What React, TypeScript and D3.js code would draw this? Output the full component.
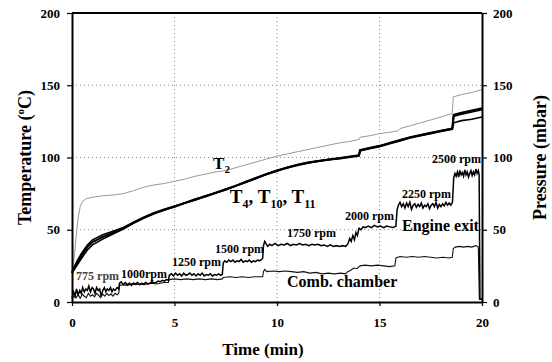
import React, { useRef, useEffect } from 'react'
import * as d3 from 'd3'

type Pt = [number, number]

// time (min), temperature (°C)
const t2: Pt[] = [
  [0, 20], [0.1, 30], [0.2, 45], [0.3, 58], [0.4, 66], [0.5, 69.5], [0.7, 71.5], [1, 72.5], [1.5, 73.5],
  [2, 74], [2.5, 75], [3, 77], [3.5, 79.5], [4, 81], [4.5, 82], [5, 83.5], [5.5, 85], [6, 87], [6.5, 88.5],
  [7, 90], [7.5, 91], [8, 93], [8.5, 95], [9, 97], [9.5, 99], [10, 101], [10.5, 102.5], [11, 104],
  [11.5, 105.5], [12, 107], [12.5, 108.5], [13, 110], [13.5, 111], [14, 112.5], [14.05, 114], [14.5, 115],
  [15, 116.5], [15.5, 117.5], [15.9, 118.5], [16, 120], [16.5, 122], [17, 124], [17.5, 126], [18, 128],
  [18.55, 130.5], [18.6, 142], [19, 143.5], [19.5, 145], [20, 147],
]

const t4: Pt[] = [
  [0, 20], [0.25, 27], [0.5, 33], [0.75, 38], [1, 41.5], [1.5, 45], [2, 48], [2.5, 51], [3, 55], [3.5, 58.5],
  [4, 61.5], [4.5, 64], [5, 66], [5.5, 68.5], [6, 71], [6.5, 73], [7, 75.5], [7.5, 78], [8, 80.5], [8.5, 83],
  [9, 86], [9.5, 88.5], [10, 91], [10.5, 93], [11, 95], [11.5, 96.5], [12, 97.5], [12.5, 98.5], [13, 99.5],
  [13.5, 100.5], [14, 101.5], [14.05, 105], [14.5, 106.5], [15, 108], [15.5, 110], [16, 112], [16.5, 114],
  [17, 115.5], [17.5, 117], [18, 118.5], [18.55, 120], [18.62, 129.5], [19, 131], [19.5, 132.5], [20, 134],
]

const t10: Pt[] = [
  [0, 20], [0.25, 25.5], [0.5, 31], [0.75, 36], [1, 39.5], [1.5, 43.5], [2, 47], [2.5, 50.5], [3, 54.5],
  [3.5, 58], [4, 61], [4.5, 63.5], [5, 66], [5.5, 68.5], [6, 70.5], [6.5, 73], [7, 75.5], [7.5, 77.5],
  [8, 80.5], [8.5, 83], [9, 85.5], [9.5, 88.5], [10, 90.5], [10.5, 93], [11, 94.5], [11.5, 96], [12, 97.5],
  [12.5, 98.5], [13, 99], [13.5, 100], [14, 101], [14.05, 104.5], [14.5, 106], [15, 107.5], [15.5, 109.5],
  [16, 111.5], [16.5, 113.5], [17, 115], [17.5, 116.5], [18, 118], [18.55, 119.5], [18.62, 128.5],
  [19, 130], [19.5, 131.5], [20, 133],
]

const t11: Pt[] = [
  [0, 21], [0.25, 28.5], [0.5, 34.5], [0.75, 39.5], [1, 43], [1.5, 46.5], [2, 49], [2.5, 51.5], [3, 55],
  [3.5, 58.5], [4, 61.5], [4.5, 64], [5, 66.5], [5.5, 68.5], [6, 71], [6.5, 73.5], [7, 75.5], [7.5, 78],
  [8, 80.5], [8.5, 83.5], [9, 86], [9.5, 88.5], [10, 91], [10.5, 93], [11, 95], [11.5, 96.5], [12, 97.5],
  [12.5, 98.5], [13, 99.5], [13.5, 100.5], [14, 101.5], [14.05, 105], [14.5, 106.5], [15, 108], [15.5, 110],
  [16, 112], [16.5, 114], [17, 115.5], [17.5, 117], [18, 118.5], [18.55, 120], [18.62, 124], [19, 125.5],
  [19.5, 126.5], [20, 128],
]

// time (min), pressure (mbar)
const engineExit: Pt[] = [
  [0, 3], [0.08, 7], [0.15, 4], [0.22, 9], [0.3, 5], [0.38, 8], [0.45, 6], [0.52, 10], [0.6, 7], [0.68, 9],
  [0.75, 8], [0.82, 11], [0.9, 7], [0.98, 10], [1.05, 9], [1.12, 6], [1.2, 10], [1.28, 8], [1.35, 9],
  [1.42, 4], [1.5, 8], [1.58, 10], [1.65, 7], [1.72, 9], [1.8, 8], [1.88, 10], [1.95, 7], [2.02, 9],
  [2.1, 8], [2.2, 10], [2.28, 9],
  [2.32, 13], [2.4, 14], [2.5, 12], [2.6, 13.5], [2.7, 12], [2.8, 13], [2.9, 11.5], [3, 13], [3.1, 12.5],
  [3.2, 13.5], [3.3, 12], [3.4, 13], [3.5, 12.5], [3.6, 13.5], [3.7, 12.5], [3.8, 13], [3.9, 14], [4, 13],
  [4.1, 13.5], [4.2, 14.5], [4.3, 14], [4.4, 15], [4.5, 14.5], [4.6, 15.5], [4.7, 15],
  [4.75, 18.5], [4.85, 19.5], [4.95, 18], [5.05, 20], [5.15, 18.5], [5.25, 19.5], [5.35, 18], [5.45, 20],
  [5.55, 18.5], [5.65, 19], [5.75, 20], [5.85, 18.5], [5.95, 19.5], [6.05, 18], [6.15, 19.5], [6.25, 18.5],
  [6.35, 20], [6.45, 18], [6.55, 19], [6.65, 18.5], [6.75, 19.5], [6.85, 18], [6.95, 19], [7.05, 18.5],
  [7.15, 19.5], [7.25, 18.5], [7.33, 19],
  [7.38, 27], [7.45, 28.5], [7.55, 27.5], [7.65, 29], [7.75, 28], [7.85, 29], [7.95, 27.5], [8.05, 28.5],
  [8.15, 28], [8.25, 29.5], [8.35, 27.5], [8.45, 28.5], [8.55, 28], [8.65, 29], [8.75, 27.5], [8.85, 28.5],
  [8.95, 28], [9.05, 29], [9.15, 28.5], [9.25, 29.5], [9.3, 30],
  [9.34, 39], [9.4, 42], [9.48, 40], [9.55, 38.5], [9.65, 40], [9.75, 39], [9.9, 40.5], [10.05, 39],
  [10.2, 40], [10.35, 39.5], [10.5, 40.5], [10.65, 39], [10.8, 40], [10.95, 39.5], [11.1, 40.5],
  [11.25, 39.5], [11.4, 40], [11.55, 39], [11.7, 40], [11.85, 39.5], [12, 40], [12.15, 39], [12.3, 39.5],
  [12.45, 38.5], [12.6, 39.5], [12.75, 38.5], [12.9, 39], [13.05, 38.5], [13.2, 39], [13.35, 38.5],
  [13.45, 40], [13.55, 44], [13.62, 42], [13.7, 46], [13.78, 43], [13.85, 48], [13.92, 46], [14, 51],
  [14.1, 50], [14.2, 52], [14.3, 51.5], [14.45, 52.5], [14.6, 51.5], [14.75, 53], [14.9, 52], [15.05, 52.5],
  [15.2, 51.5], [15.35, 52.5], [15.5, 52], [15.65, 51.5], [15.8, 52.5],
  [15.86, 64], [15.92, 67], [16, 69], [16.08, 66], [16.16, 68], [16.24, 65], [16.32, 68.5], [16.4, 66],
  [16.48, 69], [16.56, 64], [16.64, 67], [16.72, 68], [16.8, 65.5], [16.88, 67.5], [16.96, 66],
  [17.04, 68.5], [17.12, 65], [17.2, 67], [17.28, 66], [17.36, 68], [17.44, 64.5], [17.52, 67], [17.6, 68],
  [17.68, 66], [17.76, 69], [17.84, 65], [17.92, 67.5], [18, 66], [18.08, 68], [18.16, 66.5], [18.24, 69],
  [18.32, 67], [18.4, 68.5], [18.48, 67], [18.56, 69],
  [18.62, 86], [18.68, 89], [18.74, 87], [18.8, 90], [18.86, 86.5], [18.92, 91], [18.98, 88], [19.04, 89.5],
  [19.1, 87], [19.16, 91.5], [19.22, 88], [19.28, 90], [19.34, 86.5], [19.4, 89], [19.46, 91], [19.52, 87.5],
  [19.58, 90], [19.64, 88], [19.7, 92], [19.76, 89], [19.82, 91], [19.86, 88],
  [19.9, 2], [20, 2],
]

const combChamber: Pt[] = [
  [0, 2], [0.1, 4], [0.2, 3], [0.3, 5], [0.4, 2.5], [0.5, 5.5], [0.6, 4], [0.7, 3], [0.8, 6], [0.9, 4],
  [1, 5], [1.1, 3.5], [1.2, 6], [1.3, 4.5], [1.4, 3], [1.5, 5.5], [1.6, 4], [1.7, 6], [1.8, 4.5],
  [1.9, 5.5], [2, 4], [2.1, 6], [2.2, 5], [2.28, 6],
  [2.32, 11.5], [2.5, 12], [2.7, 11.5], [2.9, 12.5], [3.1, 12], [3.3, 12.5], [3.5, 12], [3.7, 12.5],
  [3.9, 13], [4.1, 12.5], [4.3, 13], [4.5, 13.5], [4.7, 13.5],
  [4.75, 15.5], [5, 16], [5.3, 15.5], [5.6, 16], [5.9, 15.5], [6.2, 16], [6.5, 15.5], [6.8, 16],
  [7.1, 15.5], [7.33, 16],
  [7.38, 17], [7.7, 17.5], [8, 17], [8.3, 17.5], [8.6, 17], [8.9, 17.5], [9.2, 17.5], [9.3, 17.5],
  [9.34, 21], [9.4, 22.5], [9.5, 21], [9.8, 21.5], [10.1, 21], [10.4, 21.5], [10.7, 21], [11, 20.5],
  [11.3, 21], [11.6, 20], [11.9, 20.5], [12.2, 19.5], [12.5, 20], [12.8, 19.5], [13.1, 20], [13.35, 19.5],
  [13.45, 21], [13.6, 22], [13.75, 23.5], [13.9, 23], [14.05, 25], [14.3, 25.5], [14.6, 25], [14.9, 25.5],
  [15.2, 25], [15.5, 24.5], [15.75, 25],
  [15.8, 30.5], [16, 31.5], [16.3, 31], [16.6, 31.5], [16.9, 31], [17.2, 31.5], [17.5, 31], [17.8, 30.5],
  [18.1, 31], [18.4, 30.5], [18.55, 31],
  [18.6, 37], [18.7, 38], [18.9, 38.5], [19.1, 38], [19.3, 38.5], [19.5, 38], [19.7, 39], [19.82, 38],
  [19.87, 2], [20, 2],
]

const xTicks = [0, 5, 10, 15, 20]
const yTicks = [0, 50, 100, 150, 200]
const gridX = [5, 10, 15]
const gridY = [50, 100, 150]

// rpm labels: text, time, value at baseline
const rpmLabels: [string, number, number][] = [
  ['775 rpm', 0.2, 15.2],
  ['1000rpm', 2.39, 16.6],
  ['1250 rpm', 4.88, 24.9],
  ['1500 rpm', 6.98, 33.9],
  ['1750 rpm', 10.49, 45],
  ['2000 rpm', 13.32, 56.7],
  ['2250 rpm', 16.1, 72],
  ['2500 rpm', 17.56, 96.2],
]

const FONT = '"Liberation Serif", "Times New Roman", serif'

const margin = { top: 13, right: 70, bottom: 60, left: 72 }
const width = 552
const height = 362

export default function App() {
  const leftRef = useRef<SVGGElement>(null)
  const rightRef = useRef<SVGGElement>(null)
  const bottomRef = useRef<SVGGElement>(null)

  const x = d3.scaleLinear().domain([0, 20]).range([margin.left, width - margin.right])
  const y = d3.scaleLinear().domain([0, 200]).range([height - margin.bottom, margin.top])

  useEffect(() => {
    const style = (g: d3.Selection<SVGGElement, unknown, null, undefined>) => {
      g.attr('font-family', FONT)
      g.select('.domain').attr('stroke-width', 2)
      g.selectAll('.tick line').attr('stroke-width', 1.2)
      g.selectAll('.tick text')
        .attr('font-family', FONT)
        .attr('font-weight', 'bold')
        .attr('font-size', 13)
        .attr('fill', '#000')
    }
    if (leftRef.current) {
      const g = d3.select(leftRef.current)
      g.call(d3.axisLeft(y).tickValues(yTicks).tickSize(5).tickSizeOuter(0).tickPadding(7))
      style(g)
    }
    if (rightRef.current) {
      const g = d3.select(rightRef.current)
      g.call(d3.axisRight(y).tickValues(yTicks).tickSize(5).tickSizeOuter(0).tickPadding(6))
      style(g)
    }
    if (bottomRef.current) {
      const g = d3.select(bottomRef.current)
      g.call(d3.axisBottom(x).tickValues(xTicks).tickSize(4).tickSizeOuter(0).tickPadding(12))
      style(g)
    }
  }, [])

  const line = d3.line<Pt>().x(d => x(d[0])).y(d => y(d[1]))

  const [x0, x1] = x.range()
  const [y0, y1] = y.range()

  return (
    <svg width={width} height={height} style={{ position: 'absolute', left: 0, top: 0, background: '#fff' }}>
      {gridX.map(v => (
        <line key={'gx' + v} x1={x(v)} x2={x(v)} y1={y0} y2={y1} stroke="#888" strokeWidth={1} strokeDasharray="1,3" />
      ))}
      {gridY.map(v => (
        <line key={'gy' + v} x1={x0} x2={x1} y1={y(v)} y2={y(v)} stroke="#888" strokeWidth={1} strokeDasharray="1,3" />
      ))}

      <path d={line(t2) ?? ''} fill="none" stroke="#999" strokeWidth={1} />
      <path d={line(t10) ?? ''} fill="none" stroke="#000" strokeWidth={1.6} />
      <path d={line(t11) ?? ''} fill="none" stroke="#000" strokeWidth={1.6} />
      <path d={line(t4) ?? ''} fill="none" stroke="#000" strokeWidth={2.2} />
      <path d={line(combChamber) ?? ''} fill="none" stroke="#111" strokeWidth={1.1} />
      <path d={line(engineExit) ?? ''} fill="none" stroke="#000" strokeWidth={1.5} />

      <line x1={x0} x2={x1} y1={y1} y2={y1} stroke="#000" strokeWidth={2} />
      <g ref={leftRef} transform={`translate(${x0},0)`} />
      <g ref={rightRef} transform={`translate(${x1},0)`} />
      <g ref={bottomRef} transform={`translate(0,${y0})`} />

      <g fontFamily={FONT} fontWeight="bold" fill="#000">
        {rpmLabels.map(([s, t, v]) => (
          <text key={s} x={x(t)} y={y(v)} fontSize={12} fill={s === '775 rpm' ? '#444' : '#000'}>{s}</text>
        ))}
        <text x={x(16.1)} y={y(49)} fontSize={16}>Engine exit</text>
        <text x={x(10.49)} y={y(10.4)} fontSize={16}>Comb. chamber</text>
        <text x={x(6.88)} y={y(92)} fontSize={17}>
          T<tspan fontSize={11} dy={4}>2</tspan>
        </text>
        <text x={x(7.7)} y={y(68.5)} fontSize={19}>
          T<tspan fontSize={12} dy={5}>4</tspan>
          <tspan dy={-5}>, T</tspan><tspan fontSize={12} dy={5}>10</tspan>
          <tspan dy={-5}>, T</tspan><tspan fontSize={12} dy={5}>11</tspan>
        </text>

        <text x={263} y={355} fontSize={17} textAnchor="middle">Time (min)</text>
        <text transform={`translate(31,${(y0 + y1) / 2}) rotate(-90)`} fontSize={18} textAnchor="middle">
          Temperature (<tspan fontSize={11} dy={-7}>o</tspan><tspan dy={7}>C)</tspan>
        </text>
        <text transform={`translate(546,${(y0 + y1) / 2}) rotate(-90)`} fontSize={18} textAnchor="middle">
          Pressure (mbar)
        </text>
      </g>
    </svg>
  )
}
